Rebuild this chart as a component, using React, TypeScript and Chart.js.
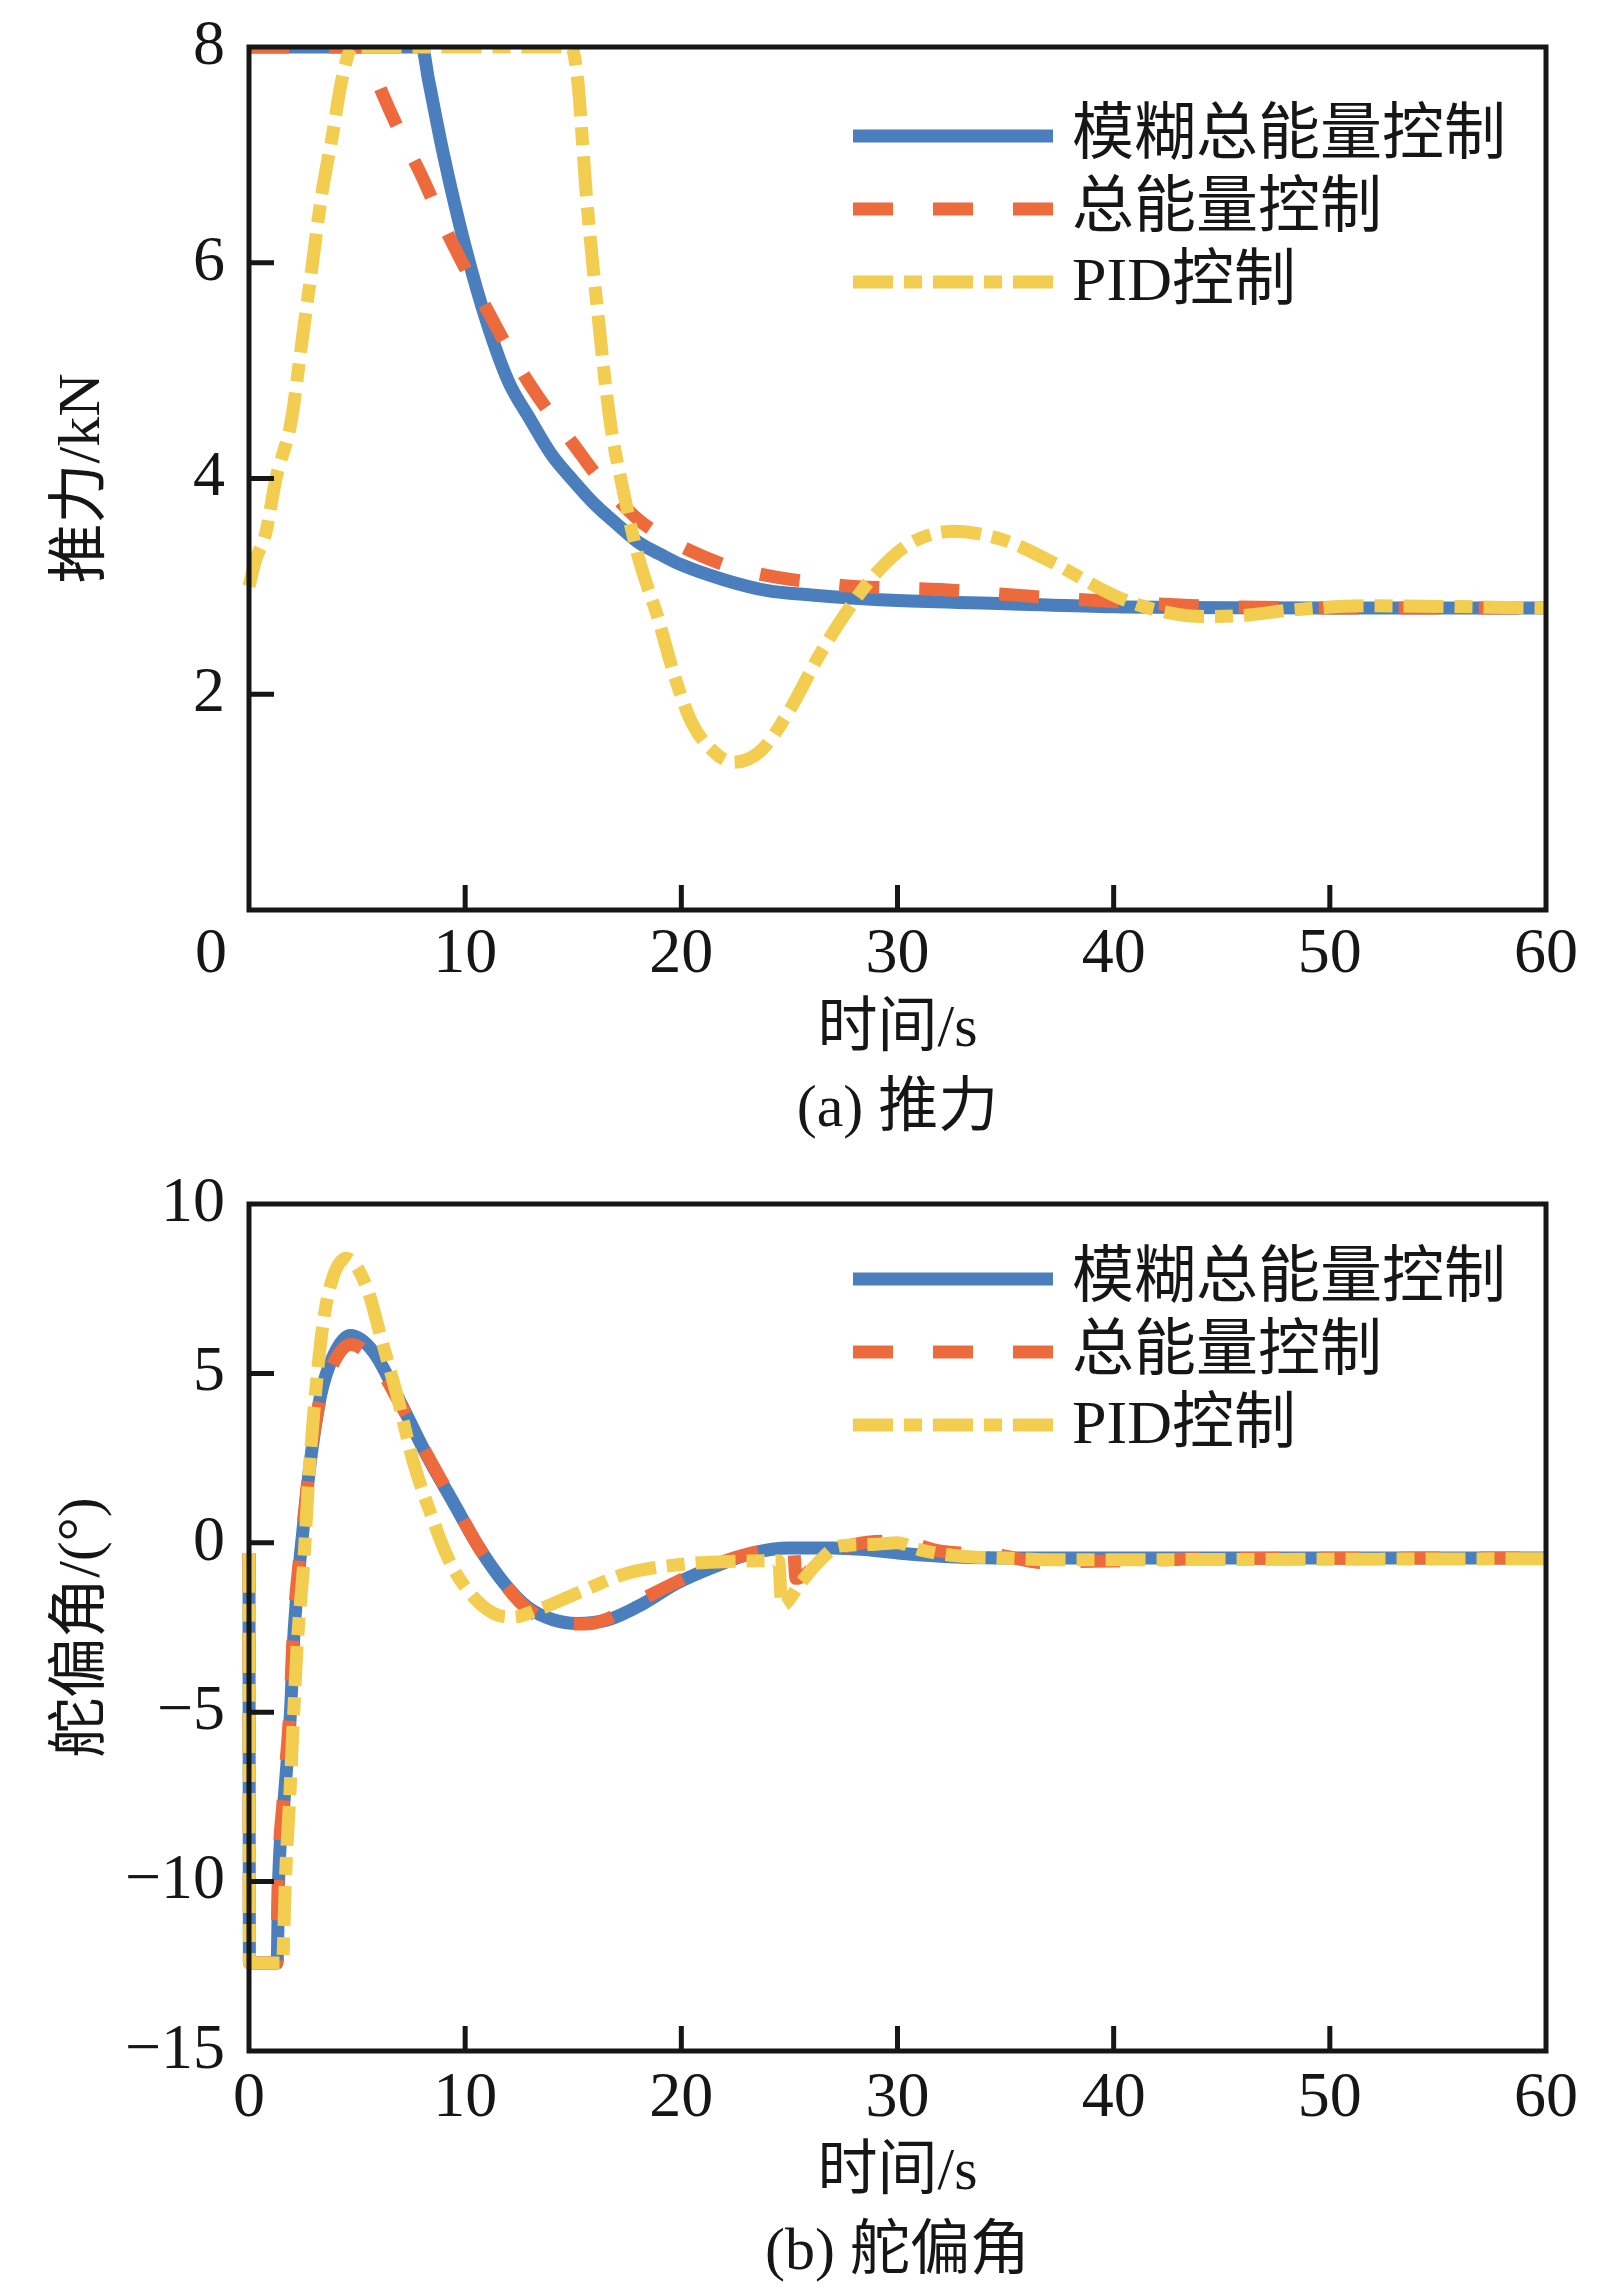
import React, { useEffect, useRef } from 'react'
import { Chart, registerables } from 'chart.js'

Chart.register(...registerables)

type Pt = [number, number]

// shared
const seriesLabels = ['模糊总能量控制', '总能量控制', 'PID控制']
const timeTicks = [0, 10, 20, 30, 40, 50, 60]

// (a) 推力, kN
const thrustTicks = [0, 2, 4, 6, 8]
const thrustFuzzy: Pt[] = [
  [0, 8], [8.0, 8], [8.3, 7.7], [9, 7.0], [10, 6.15], [11, 5.45], [12, 4.9], [13, 4.55],
  [14, 4.22], [15, 3.98], [16, 3.76], [17, 3.58], [18, 3.41], [19, 3.3], [20, 3.2],
  [22, 3.06], [24, 2.96], [26, 2.92], [28, 2.89], [30, 2.87], [35, 2.84], [40, 2.81],
  [50, 2.8], [60, 2.8],
]
const thrustEnergy: Pt[] = [
  [0, 8], [5.3, 8], [6, 7.65], [7, 7.2], [8, 6.8], [9, 6.35], [10, 5.95], [11, 5.57],
  [12, 5.2], [13, 4.87], [14, 4.58], [15, 4.32], [16, 4.05], [17, 3.82], [18, 3.62],
  [19, 3.48], [20, 3.37], [22, 3.2], [24, 3.1], [26, 3.04], [28, 3.0], [32, 2.97],
  [36, 2.91], [40, 2.86], [44, 2.82], [50, 2.8], [60, 2.8],
]
const thrustPid: Pt[] = [
  [0, 3.0], [0.3, 3.24], [0.77, 3.49], [1.25, 4.0], [1.96, 4.54], [2.43, 5.24], [2.9, 5.94],
  [3.37, 6.64], [3.85, 7.17], [4.3, 7.7], [4.8, 8], [14.9, 8], [15.2, 7.7], [15.6, 6.64],
  [16.1, 5.6], [16.7, 4.54], [17.3, 3.9], [18.0, 3.28], [18.9, 2.72], [19.7, 2.16],
  [20.5, 1.73], [21.6, 1.45], [22.4, 1.37], [23.7, 1.48], [25, 1.85], [26.35, 2.35],
  [27.7, 2.78], [29, 3.12], [30.6, 3.4], [32.6, 3.51], [34.9, 3.43], [37, 3.24],
  [40.2, 2.9], [42, 2.78], [44.2, 2.72], [46, 2.73], [48.2, 2.78], [51.6, 2.82], [60, 2.8],
]

// (b) 舵偏角, degrees
const rudderTicks = [-15, -10, -5, 0, 5, 10]
const rudderFuzzy: Pt[] = [
  [0, -0.3], [0.02, -12.4], [1.3, -12.4], [1.37, -10], [1.6, -7.8], [1.92, -5], [2.07, -2.8],
  [2.3, -0.9], [2.55, 0.7], [2.84, 2.4], [3.31, 4.34], [3.91, 5.53], [4.69, 6.12],
  [5.76, 5.63], [7.0, 4.15], [8.24, 2.56], [9.46, 1.18], [10.7, -0.2], [11.8, -1.19],
  [12.87, -1.89], [14.1, -2.28], [15.18, -2.38], [16.57, -2.28], [18.25, -1.79],
  [19.8, -1.19], [21.35, -0.75], [23.3, -0.3], [25, -0.15], [27, -0.15], [28.5, -0.2],
  [30, -0.3], [32.7, -0.42], [36, -0.45], [60, -0.45],
]
const rudderEnergy: Pt[] = [
  [0, -0.3], [0.02, -12.4], [1.28, -12.4], [1.35, -10], [1.58, -7.6], [1.9, -4.8],
  [2.05, -2.6], [2.3, -0.7], [2.55, 0.8], [2.84, 2.5], [3.31, 4.3], [3.9, 5.3], [4.7, 5.85],
  [5.7, 5.45], [7.0, 4.1], [8.24, 2.6], [9.46, 1.2], [10.7, -0.2], [11.8, -1.2],
  [12.87, -1.95], [14.4, -2.38], [15.5, -2.4], [16.57, -2.25], [18.1, -1.7], [19.8, -1.15],
  [21.35, -0.7], [23.3, -0.3], [24.5, -0.2], [25.2, -0.25], [25.3, -1.05], [25.7, -0.95],
  [26.3, -0.6], [27, -0.28], [28, -0.05], [29.5, 0.05], [30.5, 0.0], [32, -0.25],
  [34.5, -0.35], [37, -0.6], [38.5, -0.55], [41, -0.53], [44, -0.47], [60, -0.45],
]
const rudderPid: Pt[] = [
  [0, -0.3], [0.02, -12.4], [1.55, -12.4], [1.68, -10], [1.9, -7.3], [2.07, -5], [2.23, -3.0],
  [2.53, -0.6], [2.76, 1.87], [3.0, 3.86], [3.39, 6.3], [3.77, 7.6], [4.5, 8.4], [5.47, 7.5],
  [6.08, 6.12], [6.85, 4.34], [7.61, 2.37], [8.39, 0.89], [9.17, -0.4], [10.1, -1.39],
  [11.3, -2.08], [12.24, -2.19], [13.3, -1.99], [15.18, -1.49], [17.5, -0.9], [19.8, -0.65],
  [22.1, -0.55], [24.5, -0.53], [24.65, -1.85], [25.5, -1.2], [26.3, -0.6], [27.3, -0.1],
  [28.9, -0.05], [30, 0.0], [31, -0.2], [32.7, -0.38], [35, -0.45], [37, -0.5], [60, -0.47],
]

const INK = '#161616'
const COLORS = ['#4a7ebd', '#ec6a3b', '#f2cd4f']
const DASHES = [[], [40, 40], [40, 11, 18, 11]]
const FAMILY = '"Liberation Serif", "Noto Sans CJK SC", serif'
const TICK_LEN = 25

// frame, inner tick marks, legend and the odd "0" of panel (a)
const framePlugin = {
  id: 'frame',
  afterDatasetsDraw(chart: any, _args: any, opts: any) {
    const { ctx, chartArea: a, scales } = chart
    const xs = scales.x
    const ys = scales.y
    ctx.save()
    ctx.strokeStyle = INK
    ctx.lineWidth = 5
    ctx.setLineDash([])
    ctx.strokeRect(a.left, a.top, a.right - a.left, a.bottom - a.top)
    ctx.beginPath()
    for (const t of xs.ticks) {
      if (t.value <= xs.min || t.value >= xs.max) continue
      const px = xs.getPixelForValue(t.value)
      ctx.moveTo(px, a.bottom)
      ctx.lineTo(px, a.bottom - TICK_LEN)
    }
    for (const t of ys.ticks) {
      if (t.value <= ys.min || t.value >= ys.max) continue
      const py = ys.getPixelForValue(t.value)
      ctx.moveTo(a.left, py)
      ctx.lineTo(a.left + TICK_LEN, py)
    }
    ctx.stroke()

    // legend
    ctx.font = `62px ${FAMILY}`
    ctx.textAlign = 'left'
    ctx.textBaseline = 'middle'
    chart.data.datasets.forEach((ds: any, i: number) => {
      const y = opts.legendRows[i]
      ctx.strokeStyle = ds.borderColor
      ctx.lineWidth = 13
      ctx.lineCap = 'butt'
      ctx.setLineDash(ds.borderDash || [])
      ctx.beginPath()
      ctx.moveTo(opts.legendX1, y)
      ctx.lineTo(opts.legendX2, y)
      ctx.stroke()
      ctx.setLineDash([])
      ctx.fillStyle = INK
      ctx.fillText(ds.label, opts.legendTextX, y + 2)
    })

    if (opts.originDx != null) {
      ctx.font = `64px ${FAMILY}`
      ctx.textAlign = 'center'
      ctx.fillText('0', xs.getPixelForValue(0) + opts.originDx, a.bottom + opts.originDy)
    }
    ctx.restore()
  },
}

const fmt = (v: number) => String(v).replace('-', '\u2212')

// keep the plot box exactly where the layout padding puts it
const noScalePadding = (s: any) => {
  s.paddingTop = 0
  s.paddingBottom = 0
  s.paddingLeft = 0
  s.paddingRight = 0
}

function makeConfig(panel: 'a' | 'b'): any {
  const isA = panel === 'a'
  const series = isA ? [thrustFuzzy, thrustEnergy, thrustPid] : [rudderFuzzy, rudderEnergy, rudderPid]
  const yTicks = isA ? thrustTicks : rudderTicks
  const tickFont = { family: FAMILY, size: 64, lineHeight: 1.2 }
  const titleFont = { family: FAMILY, size: 60, lineHeight: 1.3334 }

  return {
    type: 'line',
    data: {
      datasets: series.map((pts, i) => ({
        label: seriesLabels[i],
        data: pts.map(([x, y]) => ({ x, y })),
        borderColor: COLORS[i],
        borderDash: DASHES[i],
        borderWidth: 13,
        borderCapStyle: 'butt',
        borderJoinStyle: 'round',
        pointRadius: 0,
        fill: false,
        cubicInterpolationMode: 'monotone',
        order: 3 - i,
        clip: isA ? { left: 8, top: 0, right: 8, bottom: 8 } : 8,
      })),
    },
    options: {
      animation: false,
      responsive: false,
      events: [],
      layout: { padding: { left: 0, top: isA ? 47 : 44, right: 77, bottom: 0 } },
      plugins: {
        legend: { display: false },
        tooltip: { enabled: false },
        frame: {
          legendX1: 853,
          legendX2: 1053,
          legendTextX: 1072,
          legendRows: isA ? [136, 209, 282] : [119, 192, 265],
          originDx: isA ? -38 : null,
          originDy: 45,
        },
      },
      scales: {
        x: {
          type: 'linear',
          min: 0,
          max: 60,
          afterBuildTicks: (s: any) => {
            s.ticks = timeTicks.map((value) => ({ value }))
          },
          afterFit: (s: any) => {
            s.height = isA ? 250 : 244
            noScalePadding(s)
          },
          ticks: {
            font: tickFont,
            color: INK,
            padding: isA ? 7 : 10,
            maxRotation: 0,
            autoSkip: false,
            callback: (v: number) => (isA && v === 0 ? '' : fmt(v)),
          },
          grid: { display: false, drawTicks: false },
          border: { display: false },
          title: {
            display: true,
            text: ['时间/s', isA ? '(a) 推力' : '(b) 舵偏角'],
            font: titleFont,
            color: INK,
            padding: { top: 0, bottom: isA ? 10 : 2 },
          },
        },
        y: {
          type: 'linear',
          min: yTicks[0],
          max: yTicks[yTicks.length - 1],
          afterBuildTicks: (s: any) => {
            s.ticks = yTicks.map((value) => ({ value }))
          },
          afterFit: (s: any) => {
            s.width = 249
            noScalePadding(s)
          },
          ticks: {
            font: tickFont,
            color: INK,
            padding: 24,
            autoSkip: false,
            callback: (v: number) => (isA && v === 0 ? '' : fmt(v)),
          },
          grid: { display: false, drawTicks: false },
          border: { display: false },
          title: {
            display: true,
            text: isA ? '推力/kN' : '舵偏角/(°)',
            font: titleFont,
            color: INK,
            padding: { top: 43, bottom: 0 },
          },
        },
      },
    },
    plugins: [framePlugin],
  }
}

function Panel({ panel, height }: { panel: 'a' | 'b'; height: number }) {
  const canvasRef = useRef<HTMLCanvasElement>(null)

  useEffect(() => {
    if (!canvasRef.current) return
    const chart = new Chart(canvasRef.current, makeConfig(panel))
    return () => chart.destroy()
  }, [panel])

  return (
    <canvas
      ref={canvasRef}
      width={1623}
      height={height}
      style={{ display: 'block', width: 1623, height }}
    />
  )
}

export default function App() {
  useEffect(() => {
    document.body.style.margin = '0'
    document.body.style.background = '#ffffff'
  }, [])

  return (
    <div style={{ width: 1623, height: 2295, background: '#ffffff' }}>
      <Panel panel="a" height={1160} />
      <Panel panel="b" height={1135} />
    </div>
  )
}
